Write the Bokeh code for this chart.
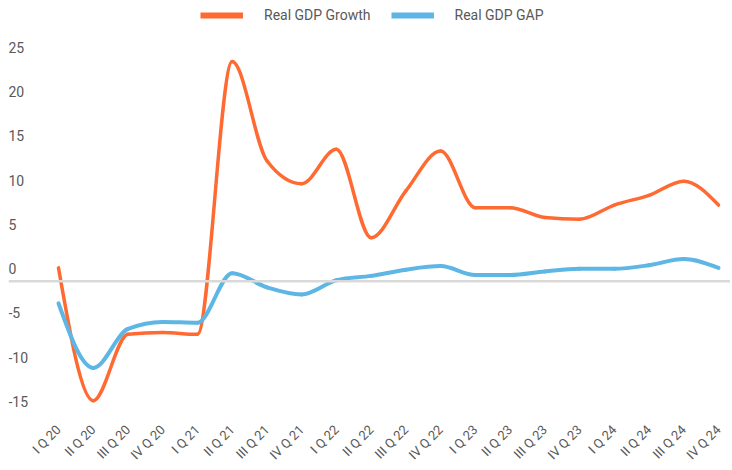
import math
from bokeh.plotting import figure
from bokeh.models import Range1d, FixedTicker, Span, Legend, LegendItem, ColumnDataSource
from bokeh.core.properties import value
from bokeh.embed import file_html
from bokeh.resources import INLINE

quarters = ["I Q 20", "II Q 20", "III Q 20", "IV Q 20",
            "I Q 21", "II Q 21", "III Q 21", "IV Q 21",
            "I Q 22", "II Q 22", "III Q 22", "IV Q 22",
            "I Q 23", "II Q 23", "III Q 23", "IV Q 23",
            "I Q 24", "II Q 24", "III Q 24", "IV Q 24"]
gdp_growth = [1.5, -13.5, -6.0, -5.8, -6.0, 24.8, 13.6, 11.0, 14.9, 4.9,
              10.2, 14.7, 8.3, 8.3, 7.2, 7.0, 8.6, 9.7, 11.3, 8.6]
gdp_gap = [-2.5, -9.8, -5.4, -4.6, -4.7, 0.9, -0.7, -1.5, 0.1, 0.6,
           1.3, 1.7, 0.7, 0.7, 1.1, 1.4, 1.4, 1.8, 2.5, 1.5]
y_ticks = [-15, -10, -5, 0, 5, 10, 15, 20, 25]
y_tick_labels = [str(v) for v in y_ticks]

FONT = "Roboto"
TEXT = "#595959"
ORANGE = "#FF6A33"
BLUE = "#5DB6E4"

X_START, X_END = -1.439, 19.345
Y_START, Y_END = -15.40, 30.8


def _sign(v):
    return -1 if v < 0 else 1


def monotone_bezier(xs, ys):
    n = len(xs)
    t = [0.0] * n
    for i in range(1, n - 1):
        h0 = xs[i] - xs[i - 1]
        h1 = xs[i + 1] - xs[i]
        s0 = (ys[i] - ys[i - 1]) / h0
        s1 = (ys[i + 1] - ys[i]) / h1
        p = (s0 * h1 + s1 * h0) / (h0 + h1)
        t[i] = (_sign(s0) + _sign(s1)) * min(abs(s0), abs(s1), 0.5 * abs(p))
    t[0] = (3 * (ys[1] - ys[0]) / (xs[1] - xs[0]) - t[1]) / 2
    t[-1] = (3 * (ys[-1] - ys[-2]) / (xs[-1] - xs[-2]) - t[-2]) / 2
    d = dict(x0=[], y0=[], x1=[], y1=[], cx0=[], cy0=[], cx1=[], cy1=[])
    for i in range(n - 1):
        dx = (xs[i + 1] - xs[i]) / 3
        d["x0"].append(xs[i]); d["y0"].append(ys[i])
        d["x1"].append(xs[i + 1]); d["y1"].append(ys[i + 1])
        d["cx0"].append(xs[i] + dx); d["cy0"].append(ys[i] + dx * t[i])
        d["cx1"].append(xs[i + 1] - dx); d["cy1"].append(ys[i + 1] - dx * t[i + 1])
    return ColumnDataSource(d)


xs = list(range(len(quarters)))

p = figure(width=730, height=470, output_backend="svg", toolbar_location=None,
           x_range=Range1d(X_START, X_END), y_range=Range1d(Y_START, Y_END),
           min_border_left=8, min_border_right=0, min_border_top=8,
           min_border_bottom=20, y_axis_location=None)
p.outline_line_color = None
p.grid.visible = False
p.background_fill_color = "white"
p.border_fill_color = "white"

zero = Span(location=0, dimension="width", line_color="#D9D9D9", line_width=2.5)
p.add_layout(zero)

# y tick labels (left aligned, sitting just above each tick value)
p.text(x=[X_START] * len(y_ticks), y=y_ticks, text=y_tick_labels,
       text_align="left", text_baseline="bottom", y_offset=-7,
       text_font=value(FONT), text_font_size="14px", text_color=TEXT)

r1 = p.bezier(x0="x0", y0="y0", x1="x1", y1="y1", cx0="cx0", cy0="cy0", cx1="cx1", cy1="cy1",
              source=monotone_bezier(xs, gdp_growth), line_color=ORANGE, line_width=3.5,
              line_cap="round")
r2 = p.bezier(x0="x0", y0="y0", x1="x1", y1="y1", cx0="cx0", cy0="cy0", cx1="cx1", cy1="cy1",
              source=monotone_bezier(xs, gdp_gap), line_color=BLUE, line_width=4,
              line_cap="round")

# legend proxies (single point lines draw nothing in the plot)
l1 = p.line(x=xs[:1], y=gdp_growth[:1], line_color=ORANGE, line_width=6)
l2 = p.line(x=xs[:1], y=gdp_gap[:1], line_color=BLUE, line_width=6)

xa = p.xaxis[0]
xa.ticker = FixedTicker(ticks=xs)
xa.major_label_overrides = {i: q for i, q in enumerate(quarters)}
xa.major_label_orientation = math.pi / 4
xa.axis_line_color = None
xa.major_tick_line_color = None
xa.minor_tick_line_color = None
xa.major_tick_in = 0
xa.major_tick_out = 0
xa.major_label_standoff = 10
xa.major_label_text_font = FONT
xa.major_label_text_font_size = "13px"
xa.major_label_text_color = TEXT

legend = Legend(items=[LegendItem(label="Real GDP Growth", renderers=[l1]),
                       LegendItem(label="Real GDP GAP", renderers=[l2])],
                orientation="horizontal", location=(192, 394),
                glyph_width=43, glyph_height=14, label_height=14,
                label_standoff=21, spacing=20, margin=0, padding=0,
                border_line_color=None, background_fill_alpha=0,
                label_text_font=FONT, label_text_font_size="14px",
                label_text_color=TEXT)
p.add_layout(legend)

open("out.html", "w").write(file_html(p, INLINE))
